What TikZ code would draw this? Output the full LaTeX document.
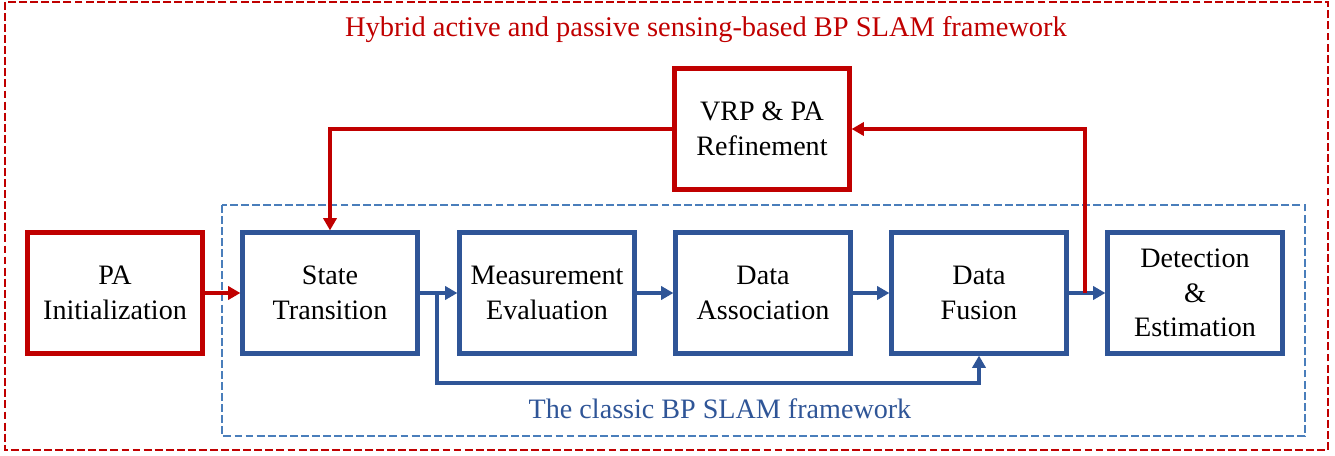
\documentclass[tikz,border=0pt]{standalone}
\usepackage{fontspec}
\setmainfont{Liberation Serif}
\usepackage{tikz}
\usetikzlibrary{arrows.meta}
\definecolor{slamred}{HTML}{C00000}
\definecolor{slamblue}{HTML}{2F5597}
\definecolor{frameblue}{HTML}{4A7EBB}
\tikzset{
  block/.style={rectangle, draw=slamblue, line width=2.4pt, fill=white,
    minimum width=3.5cm, minimum height=2.42cm, align=center,
    font=\fontsize{16}{19.8}\selectfont, inner sep=1pt},
  redblock/.style={block, draw=slamred},
  flow/.style={draw=slamblue, line width=2pt,
    -{Triangle[length=7pt,width=7.5pt]}},
  redflow/.style={flow, draw=slamred},
  frame/.style={dash pattern=on 4.5pt off 1.8pt, line width=0.8pt}
}

\begin{document}
\begin{tikzpicture}[x=0.02cm, y=-0.02cm]
    \useasboundingbox (0,0) rectangle (1335,456);
    % outer and inner frames
    \draw[frame, draw=slamred] (5,2) rectangle (1328,450);
    \draw[frame, draw=frameblue, line width=0.6pt] (222,205) rectangle (1305,436);
    \node[text=slamred, font=\fontsize{16.2}{19.8}\selectfont] (hybrid) at (706,30)
      {Hybrid active and passive sensing-based BP SLAM framework};
    \node[text=slamblue, font=\fontsize{16}{19.8}\selectfont] (classic) at (720,409)
      {The classic BP SLAM framework};
    % blocks
    \node[redblock] (init) at (115,293) {PA\\Initialization};
    \node[block] (trans) at (330,293) {State\\Transition};
    \node[block] (meas) at (547,293) {Measurement\\Evaluation};
    \node[block] (assoc) at (763,293) {Data\\Association};
    \node[block] (fusion) at (979,293) {Data\\Fusion};
    \node[block] (detect) at (1195,293) {Detection\\\&\\Estimation};
    \node[redblock] (refine) at (762,129) {VRP \& PA\\Refinement};
    % branch points
    \coordinate (split) at (437,293);
    \coordinate (tap) at (1085,293);
    % main chain
    \draw[redflow] (init) -- (trans);
    \draw[flow] (trans) -- (meas);
    \draw[flow] (meas) -- (assoc);
    \draw[flow] (assoc) -- (fusion);
    \draw[flow] (fusion) -- (detect);
    % bypass below
    \draw[flow] (split) |- (700,383) -| (fusion.south);
    % feedback through refinement
    \draw[redflow] (tap) |- (refine.east);
    \draw[redflow] (refine.west) -| (trans.north);
\end{tikzpicture}
\end{document}
